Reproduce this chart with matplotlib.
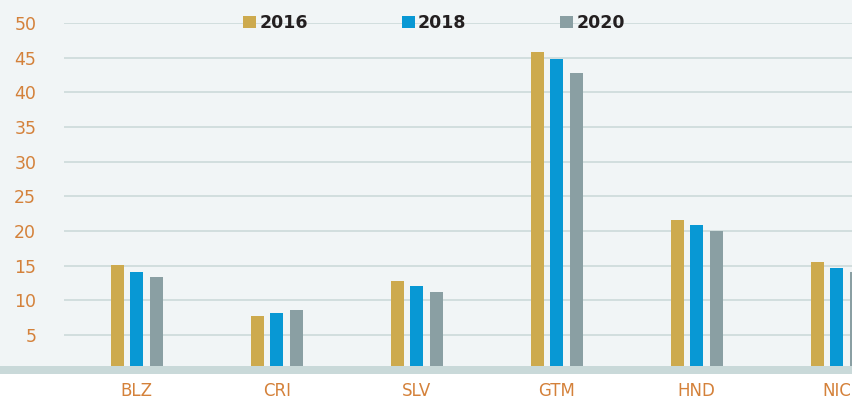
import matplotlib
matplotlib.use("Agg")
import matplotlib.pyplot as plt
from matplotlib.patches import Rectangle, Patch
import numpy as np

## Data
countries = ["BLZ", "CRI", "SLV", "GTM", "HND", "NIC"]
years = ["2016", "2018", "2020"]
v2016 = [15.1, 7.8, 12.8, 45.8, 21.6, 15.5]
v2018 = [14.1, 8.2, 12.1, 44.8, 20.9, 14.7]
v2020 = [13.4, 8.6, 11.2, 42.8, 20.0, 14.1]
yticks = [5, 10, 15, 20, 25, 30, 35, 40, 45, 50]

colors = ["#cdaa4e", "#0898d4", "#8a9fa3"]
bg = "#f1f5f6"
orange = "#d4813a"

fig = plt.figure(figsize=(8.52, 4.0), dpi=100, facecolor=bg)
# white strip under the baseline (below the axes so tick labels stay visible)
fig.patches.append(Rectangle((0, 0), 1, 26 / 400, transform=fig.transFigure,
                             facecolor="white", edgecolor="none", zorder=-1))
# grey baseline band across the full width, drawn over the bar feet
fig.patches.append(Rectangle((0, 26 / 400), 1, 8 / 400, transform=fig.transFigure,
                             facecolor="#c9d9d9", edgecolor="none", zorder=1))

# axes runs past the right edge so NIC gets cut like in the original
left = 64 / 852
bottom = 30.3 / 400
width = (6.12 * 140) / 852
height = (369.7 - 23) / 400
ax = fig.add_axes([left, bottom, width, height])
ax.set_facecolor("none")
ax.set_zorder(0)

x = np.arange(len(countries))
bw = 0.093
off = 0.14
for i, vals in enumerate([v2016, v2018, v2020]):
    ax.bar(x + (i - 1) * off, vals, width=bw, color=colors[i], zorder=3)

ax.set_xlim(-0.52, 5.6)
ax.set_ylim(0, 50)
ax.set_yticks(yticks)
ax.set_yticklabels([str(t) for t in yticks])
ax.yaxis.grid(True, color="#d2dede", linewidth=1.4, zorder=0)
ax.set_axisbelow(True)
ax.tick_params(axis="y", length=0, pad=20, labelsize=12.5, labelcolor=orange)
ax.set_xticks(x)
ax.set_xticklabels(countries)
ax.tick_params(axis="x", length=0, pad=9, labelsize=12, labelcolor=orange)
for s in ax.spines.values():
    s.set_visible(False)

handles = [Patch(facecolor=c, edgecolor="none") for c in colors]
leg = fig.legend(handles, years, loc="center", bbox_to_anchor=(434 / 852, 1 - 23 / 400),
                 ncol=3, frameon=False, handlelength=0.75, handleheight=0.75,
                 handletextpad=0.2, columnspacing=5.4, fontsize=12.5)
for t in leg.get_texts():
    t.set_color("#231f20")
    t.set_fontweight("semibold")

fig.savefig("out.png", dpi=100, facecolor=bg)
